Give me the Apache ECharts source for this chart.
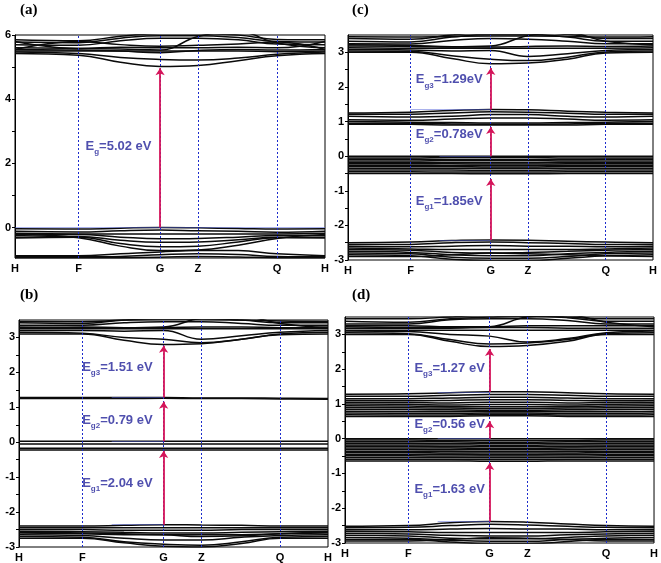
<!DOCTYPE html>
<html><head><meta charset="utf-8">
<script src="https://cdn.jsdelivr.net/npm/echarts@6/dist/echarts.min.js"></script>
<style>html,body{margin:0;padding:0;background:#fff}#c{width:661px;height:563px}</style>
</head><body><div id="c"></div>
<script>
// k-path sample positions (H, F, mid, G, Z, mid, Q, H)
const kPoints = [0, 0.205, 0.34, 0.468, 0.59, 0.72, 0.845, 1];
const kTickValues = [0, 0.205, 0.468, 0.59, 0.845, 1];
const kTickLabels = ['H', 'F', 'G', 'Z', 'Q', 'H'];
const kLines = [0.205, 0.468, 0.59, 0.845];
const kGamma = 0.468;

// ---- panel (a)
const aYRange = [-0.95, 6];
const aYLabels = [0, 2, 4, 6];
const aYTicks = [0, 1, 2, 3, 4, 5, 6];
const aBands = [
  [5.42, 5.37, 5.15, 5.02, 5.05, 5.2, 5.35, 5.42],
  [5.47, 5.42, 5.3, 5.24, 5.22, 5.28, 5.4, 5.47],
  [5.5, 5.5, 5.5, 5.5, 5.5, 5.5, 5.48, 5.5],
  [5.55, 5.53, 5.5, 5.45, 5.52, 5.55, 5.53, 5.55],
  [5.6, 5.58, 5.56, 5.53, 5.95, 6.1, 5.75, 5.6],
  [5.7, 5.68, 5.82, 5.9, 5.9, 5.85, 5.72, 5.7],
  [5.78, 5.76, 5.9, 5.98, 5.98, 5.92, 5.8, 5.78],
  [5.85, 5.82, 5.96, 6.05, 6.05, 6.0, 5.86, 5.85],
  [5.55, 5.8, 5.7, 5.65, 5.68, 5.72, 5.78, 5.55],
  [5.8, 5.58, 5.62, 5.6, 5.6, 5.62, 5.6, 5.8],
  [-0.04, -0.05, -0.02, 0.0, -0.01, -0.03, -0.05, -0.04],
  [-0.12, -0.14, -0.1, -0.08, -0.1, -0.12, -0.15, -0.12],
  [-0.18, -0.2, -0.2, -0.2, -0.2, -0.2, -0.2, -0.18],
  [-0.25, -0.22, -0.3, -0.35, -0.34, -0.3, -0.25, -0.25],
  [-0.3, -0.28, -0.4, -0.46, -0.45, -0.38, -0.3, -0.3],
  [-0.33, -0.3, -0.5, -0.6, -0.58, -0.45, -0.32, -0.33],
  [-0.22, -0.32, -0.58, -0.72, -0.7, -0.55, -0.34, -0.22],
  [-0.88, -0.88, -0.82, -0.76, -0.72, -0.72, -0.82, -0.88],
  [-0.91, -0.91, -0.9, -0.85, -0.82, -0.84, -0.9, -0.91],
  [-0.94, -0.94, -0.94, -0.93, -0.9, -0.92, -0.94, -0.94]
];
const aArrows = [[0.0, 4.96]];
const aGuides = [[0, 1, 0.0]];
const aLabels = [['', '5.02 eV', 2.48]];
const aLabelK = 0.442;

// ---- panel (b)
const bYRange = [-3, 3.5];
const bBands = [
  [3.1, 3.1, 2.92, 2.8, 2.82, 2.95, 3.08, 3.1],
  [3.15, 3.12, 3.0, 2.95, 2.85, 2.95, 3.1, 3.15],
  [3.2, 3.2, 3.18, 3.2, 2.95, 3.05, 3.15, 3.2],
  [3.25, 3.25, 3.25, 3.25, 3.25, 3.25, 3.25, 3.25],
  [3.3, 3.28, 3.28, 3.28, 3.3, 3.3, 3.28, 3.3],
  [3.35, 3.35, 3.42, 3.45, 3.45, 3.4, 3.35, 3.35],
  [3.42, 3.4, 3.5, 3.55, 3.55, 3.5, 3.42, 3.42],
  [3.28, 3.3, 3.28, 3.3, 3.55, 3.6, 3.4, 3.28],
  [3.46, 3.45, 3.5, 3.52, 3.52, 3.5, 3.47, 3.46],
  [1.28, 1.28, 1.28, 1.28, 1.27, 1.27, 1.26, 1.25],
  [1.25, 1.25, 1.25, 1.26, 1.25, 1.25, 1.24, 1.23],
  [0.03, 0.03, 0.03, 0.03, 0.03, 0.03, 0.03, 0.03],
  [-0.05, -0.05, -0.05, -0.05, -0.05, -0.05, -0.05, -0.05],
  [-0.17, -0.17, -0.17, -0.17, -0.17, -0.17, -0.17, -0.17],
  [-0.22, -0.22, -0.22, -0.22, -0.22, -0.22, -0.22, -0.22],
  [-2.4, -2.4, -2.38, -2.36, -2.37, -2.38, -2.4, -2.4],
  [-2.45, -2.45, -2.45, -2.45, -2.45, -2.45, -2.45, -2.45],
  [-2.5, -2.5, -2.52, -2.52, -2.52, -2.5, -2.5, -2.5],
  [-2.55, -2.56, -2.58, -2.6, -2.6, -2.58, -2.56, -2.55],
  [-2.6, -2.62, -2.65, -2.65, -2.65, -2.65, -2.62, -2.6],
  [-2.65, -2.67, -2.75, -2.8, -2.8, -2.72, -2.67, -2.65],
  [-2.7, -2.72, -2.85, -2.92, -2.95, -2.85, -2.72, -2.7],
  [-2.75, -2.75, -2.88, -2.98, -3.0, -2.9, -2.75, -2.75],
  [-2.58, -2.6, -2.62, -2.65, -2.7, -2.68, -2.62, -2.58]
];
const bArrows = [[-2.36, -0.25], [0.03, 1.16], [1.28, 2.76]];
const bGuides = [[0.3, kGamma, 1.28], [0.3, kGamma, 0.03], [0.3, kGamma, -2.36]];
const bLabels = [['3', '1.51 eV', 2.09], ['2', '0.79 eV', 0.58], ['1', '2.04 eV', -1.22]];
const bLabelK = 0.434;

// ---- panel (c)
const cYRange = [-3, 3.5];
const cBands = [
  [3.0, 3.0, 2.82, 2.67, 2.69, 2.8, 2.98, 3.0],
  [3.04, 3.03, 2.9, 2.8, 2.76, 2.86, 3.01, 3.04],
  [3.08, 3.07, 3.04, 3.05, 2.88, 2.96, 3.05, 3.08],
  [3.13, 3.12, 3.12, 3.12, 3.12, 3.12, 3.12, 3.13],
  [3.18, 3.17, 3.15, 3.15, 3.17, 3.18, 3.17, 3.18],
  [3.25, 3.24, 3.34, 3.4, 3.38, 3.32, 3.25, 3.25],
  [3.32, 3.3, 3.44, 3.52, 3.52, 3.44, 3.32, 3.32],
  [3.4, 3.38, 3.5, 3.58, 3.58, 3.52, 3.4, 3.4],
  [3.22, 3.2, 3.16, 3.18, 3.48, 3.56, 3.32, 3.22],
  [3.45, 3.44, 3.46, 3.47, 3.47, 3.46, 3.44, 3.45],
  [1.25, 1.27, 1.32, 1.35, 1.34, 1.3, 1.27, 1.25],
  [1.21, 1.21, 1.25, 1.28, 1.27, 1.24, 1.21, 1.21],
  [1.15, 1.13, 1.15, 1.2, 1.2, 1.15, 1.13, 1.15],
  [1.05, 1.04, 1.07, 1.1, 1.1, 1.07, 1.04, 1.05],
  [1.0, 0.98, 0.97, 0.96, 0.96, 0.97, 0.98, 1.0],
  [0.95, 0.95, 0.93, 0.92, 0.92, 0.93, 0.95, 0.95],
  [0.92, 0.92, 0.9, 0.9, 0.9, 0.9, 0.92, 0.92],
  [0.0, 0.0, 0.0, 0.0, 0.0, 0.0, 0.0, 0.0],
  [-0.05, -0.05, -0.04, -0.04, -0.04, -0.05, -0.05, -0.05],
  [-0.09, -0.09, -0.1, -0.1, -0.1, -0.1, -0.09, -0.09],
  [-0.14, -0.14, -0.13, -0.13, -0.13, -0.14, -0.14, -0.14],
  [-0.18, -0.18, -0.19, -0.19, -0.19, -0.18, -0.18, -0.18],
  [-0.22, -0.22, -0.22, -0.23, -0.23, -0.22, -0.22, -0.22],
  [-0.26, -0.26, -0.27, -0.27, -0.27, -0.26, -0.26, -0.26],
  [-0.3, -0.3, -0.3, -0.31, -0.31, -0.3, -0.3, -0.3],
  [-0.35, -0.35, -0.35, -0.35, -0.35, -0.35, -0.35, -0.35],
  [-0.4, -0.4, -0.4, -0.41, -0.41, -0.4, -0.4, -0.4],
  [-0.45, -0.45, -0.46, -0.46, -0.46, -0.45, -0.45, -0.45],
  [-0.5, -0.5, -0.5, -0.51, -0.51, -0.5, -0.5, -0.5],
  [-2.5, -2.48, -2.44, -2.42, -2.43, -2.46, -2.48, -2.5],
  [-2.55, -2.55, -2.5, -2.48, -2.5, -2.52, -2.55, -2.55],
  [-2.6, -2.62, -2.6, -2.58, -2.6, -2.6, -2.62, -2.6],
  [-2.65, -2.68, -2.7, -2.7, -2.7, -2.7, -2.68, -2.65],
  [-2.7, -2.72, -2.78, -2.8, -2.78, -2.75, -2.72, -2.7],
  [-2.75, -2.78, -2.85, -2.88, -2.88, -2.82, -2.78, -2.75],
  [-2.8, -2.82, -2.92, -2.95, -2.95, -2.9, -2.82, -2.8],
  [-2.85, -2.88, -2.98, -3.02, -3.02, -2.95, -2.88, -2.85],
  [-2.9, -2.9, -2.85, -2.8, -2.82, -2.85, -2.88, -2.9]
];
const cArrows = [[-2.42, -0.66], [0.0, 0.84], [1.35, 2.55]];
const cGuides = [[0.205, kGamma, 1.35], [0.3, kGamma, 0.0], [0.3, kGamma, -2.42]];
const cLabels = [['3', '1.29eV', 2.16], ['2', '0.78eV', 0.58], ['1', '1.85eV', -1.34]];
const cLabelK = 0.443;

// ---- panel (d)
const dYRange = [-3, 3.5];
const dBands = [
  [3.0, 3.0, 2.8, 2.65, 2.68, 2.8, 3.0, 3.0],
  [3.05, 3.02, 2.85, 2.72, 2.75, 2.85, 3.02, 3.05],
  [3.1, 3.08, 3.0, 2.95, 2.78, 2.88, 3.05, 3.1],
  [3.12, 3.12, 3.12, 3.12, 3.12, 3.12, 3.12, 3.12],
  [3.18, 3.18, 3.18, 3.2, 3.2, 3.18, 3.18, 3.18],
  [3.25, 3.25, 3.22, 3.22, 3.25, 3.25, 3.25, 3.25],
  [3.3, 3.3, 3.42, 3.45, 3.45, 3.4, 3.3, 3.3],
  [3.38, 3.35, 3.45, 3.5, 3.52, 3.48, 3.38, 3.38],
  [3.22, 3.2, 3.2, 3.22, 3.5, 3.55, 3.35, 3.22],
  [3.45, 3.45, 3.5, 3.55, 3.55, 3.5, 3.45, 3.45],
  [1.28, 1.29, 1.32, 1.35, 1.35, 1.32, 1.29, 1.28],
  [1.22, 1.22, 1.25, 1.27, 1.27, 1.25, 1.22, 1.22],
  [1.15, 1.15, 1.17, 1.19, 1.19, 1.17, 1.15, 1.15],
  [1.1, 1.09, 1.1, 1.12, 1.12, 1.1, 1.09, 1.1],
  [1.05, 1.04, 1.03, 1.05, 1.05, 1.03, 1.04, 1.05],
  [1.0, 0.99, 0.97, 0.98, 0.98, 0.97, 0.99, 1.0],
  [0.95, 0.94, 0.92, 0.92, 0.92, 0.92, 0.94, 0.95],
  [0.9, 0.89, 0.88, 0.87, 0.87, 0.88, 0.89, 0.9],
  [0.85, 0.84, 0.83, 0.82, 0.82, 0.83, 0.84, 0.85],
  [0.79, 0.78, 0.78, 0.78, 0.78, 0.78, 0.78, 0.79],
  [0.74, 0.73, 0.73, 0.74, 0.74, 0.73, 0.73, 0.74],
  [0.69, 0.68, 0.68, 0.7, 0.7, 0.68, 0.68, 0.69],
  [0.64, 0.64, 0.64, 0.66, 0.66, 0.64, 0.64, 0.64],
  [0.0, 0.0, 0.0, 0.0, 0.0, 0.0, 0.0, 0.0],
  [-0.04, -0.04, -0.05, -0.05, -0.05, -0.05, -0.04, -0.04],
  [-0.09, -0.09, -0.09, -0.1, -0.1, -0.09, -0.09, -0.09],
  [-0.13, -0.13, -0.14, -0.14, -0.14, -0.14, -0.13, -0.13],
  [-0.18, -0.18, -0.18, -0.19, -0.19, -0.18, -0.18, -0.18],
  [-0.22, -0.22, -0.23, -0.23, -0.23, -0.23, -0.22, -0.22],
  [-0.27, -0.27, -0.27, -0.28, -0.28, -0.27, -0.27, -0.27],
  [-0.31, -0.31, -0.32, -0.32, -0.32, -0.32, -0.31, -0.31],
  [-0.36, -0.36, -0.36, -0.37, -0.37, -0.36, -0.36, -0.36],
  [-0.4, -0.4, -0.41, -0.41, -0.41, -0.41, -0.4, -0.4],
  [-0.45, -0.45, -0.45, -0.46, -0.46, -0.45, -0.45, -0.45],
  [-0.49, -0.49, -0.5, -0.5, -0.5, -0.5, -0.49, -0.49],
  [-0.54, -0.54, -0.54, -0.55, -0.55, -0.54, -0.54, -0.54],
  [-0.59, -0.59, -0.59, -0.6, -0.6, -0.59, -0.59, -0.59],
  [-0.64, -0.64, -0.64, -0.65, -0.65, -0.64, -0.64, -0.64],
  [-2.52, -2.5, -2.42, -2.38, -2.4, -2.45, -2.5, -2.52],
  [-2.56, -2.55, -2.5, -2.46, -2.48, -2.52, -2.55, -2.56],
  [-2.62, -2.62, -2.6, -2.58, -2.6, -2.6, -2.62, -2.62],
  [-2.66, -2.68, -2.7, -2.7, -2.7, -2.7, -2.68, -2.66],
  [-2.72, -2.74, -2.78, -2.8, -2.8, -2.76, -2.74, -2.72],
  [-2.78, -2.8, -2.86, -2.88, -2.88, -2.84, -2.8, -2.78],
  [-2.84, -2.86, -2.92, -2.95, -2.95, -2.9, -2.86, -2.84],
  [-2.9, -2.9, -2.97, -3.02, -3.02, -2.96, -2.9, -2.9],
  [-2.94, -2.94, -2.9, -2.85, -2.86, -2.9, -2.94, -2.94]
];
const dArrows = [[-2.38, -0.7], [0.0, 0.5], [1.35, 2.58]];
const dGuides = [[0.3, kGamma, 1.35], [0.3, kGamma, 0.0], [0.3, kGamma, -2.38]];
const dLabels = [['3', '1.27 eV', 1.98], ['2', '0.56 eV', 0.36], ['1', '1.63 eV', -1.5]];
const dLabelK = 0.454;

const fullTicks = [-3, -2.5, -2, -1.5, -1, -0.5, 0, 0.5, 1, 1.5, 2, 2.5, 3];
const fullLabels = [-3, -2, -1, 0, 1, 2, 3];

const panels = [
  {name: '(a)', grid: {left: 15, top: 35, width: 310, height: 223}, yr: aYRange, yl: aYLabels, yt: aYTicks,
   bands: aBands, arrows: aArrows, guides: aGuides, labels: aLabels, lk: aLabelK, title: [20, 3]},
  {name: '(c)', grid: {left: 348, top: 35, width: 305, height: 225}, yr: cYRange, yl: fullLabels, yt: fullTicks,
   bands: cBands, arrows: cArrows, guides: cGuides, labels: cLabels, lk: cLabelK, title: [352, 3]},
  {name: '(b)', grid: {left: 19, top: 320, width: 309, height: 229}, yr: bYRange, yl: fullLabels, yt: fullTicks,
   bands: bBands, arrows: bArrows, guides: bGuides, labels: bLabels, lk: bLabelK, title: [20, 288]},
  {name: '(d)', grid: {left: 345, top: 317, width: 311, height: 226}, yr: dYRange, yl: fullLabels, yt: fullTicks,
   bands: dBands, arrows: dArrows, guides: dGuides, labels: dLabels, lk: dLabelK, title: [352, 288]}
];

const BLUE = '#23239a';
const RED = '#d4145a';
const grids = [], xAxes = [], yAxes = [], series = [], graphics = [];

panels.forEach((p, i) => {
  grids.push(Object.assign({show: true, borderColor: '#000', borderWidth: 1, backgroundColor: 'transparent'}, p.grid));
  xAxes.push({
    type: 'value', gridIndex: i, min: 0, max: 1,
    axisLine: {show: false}, axisTick: {show: false}, splitLine: {show: false},
    axisLabel: {
      customValues: kTickValues, margin: 5,
      fontFamily: 'Liberation Sans, Arial', fontWeight: 'bold', fontSize: 11, color: '#000',
      formatter: v => kTickLabels[kTickValues.findIndex(t => Math.abs(t - v) < 1e-6)] || ''
    }
  });
  yAxes.push({
    type: 'value', gridIndex: i, min: p.yr[0], max: p.yr[1],
    axisLine: {show: true, onZero: false, lineStyle: {color: '#000'}},
    axisTick: {show: true, inside: false, length: 3, customValues: p.yt, lineStyle: {color: '#000'}},
    splitLine: {show: false},
    axisLabel: {customValues: p.yl, margin: 4, fontFamily: 'Liberation Sans, Arial', fontWeight: 'bold', fontSize: 11, color: '#000'}
  });
  // bands
  p.bands.forEach(b => {
    series.push({
      type: 'line', xAxisIndex: i, yAxisIndex: i, data: kPoints.map((k, j) => [k, b[j]]),
      showSymbol: false, smooth: 0.45, silent: true, z: 2,
      lineStyle: {color: '#0a0a0a', width: 1.5}
    });
  });
  // blue guides
  series.push({
    type: 'lines', coordinateSystem: 'cartesian2d', xAxisIndex: i, yAxisIndex: i, silent: true, z: 3,
    lineStyle: {color: '#5060d8', width: 0.7, opacity: 0.7},
    data: p.guides.map(g => ({coords: [[g[0], g[2]], [g[1], g[2]]]}))
  });
  // vertical dotted lines
  series.push({
    type: 'lines', coordinateSystem: 'cartesian2d', xAxisIndex: i, yAxisIndex: i, silent: true, z: 4,
    lineStyle: {color: '#1c2ccc', width: 1, type: [2, 2], opacity: 1},
    data: kLines.map(k => ({coords: [[k, p.yr[0]], [k, p.yr[1]]]}))
  });
  // arrows
  series.push({
    type: 'lines', coordinateSystem: 'cartesian2d', xAxisIndex: i, yAxisIndex: i, silent: true, z: 5,
    symbol: ['none', 'arrow'], symbolSize: [0, 7],
    lineStyle: {color: RED, width: 1.8, opacity: 1},
    data: p.arrows.map(a => ({coords: [[kGamma, a[0]], [kGamma, a[1]]]}))
  });
  // labels
  series.push({
    type: 'scatter', xAxisIndex: i, yAxisIndex: i, silent: true, z: 6, symbolSize: 1,
    itemStyle: {color: 'rgba(0,0,0,0)'},
    data: p.labels.map(l => ({value: [p.lk, l[2]], sub: 'g' + l[0], txt: '=' + l[1]})),
    label: {
      show: true, position: 'left', distance: 0,
      formatter: prm => '{m|E}{s|' + prm.data.sub + '}{m|' + prm.data.txt + '}',
      rich: {
        m: {fontFamily: 'Liberation Sans, Arial', fontWeight: 'bold', fontSize: 13, color: BLUE, lineHeight: 16, verticalAlign: 'top'},
        s: {fontFamily: 'Liberation Sans, Arial', fontWeight: 'bold', fontSize: 8, color: BLUE, lineHeight: 16, verticalAlign: 'bottom', padding: [8, 0, 0, 0]}
      }
    }
  });
  graphics.push({
    type: 'text', left: p.title[0], top: p.title[1],
    style: {text: p.name, font: 'bold 15px "Liberation Serif", "Times New Roman", serif', fill: '#000'}
  });
});

const chart = echarts.init(document.getElementById('c'), null, {renderer: 'canvas'});
chart.setOption({
  animation: false,
  grid: grids, xAxis: xAxes, yAxis: yAxes, series: series, graphic: graphics
});
</script>
</body></html>
